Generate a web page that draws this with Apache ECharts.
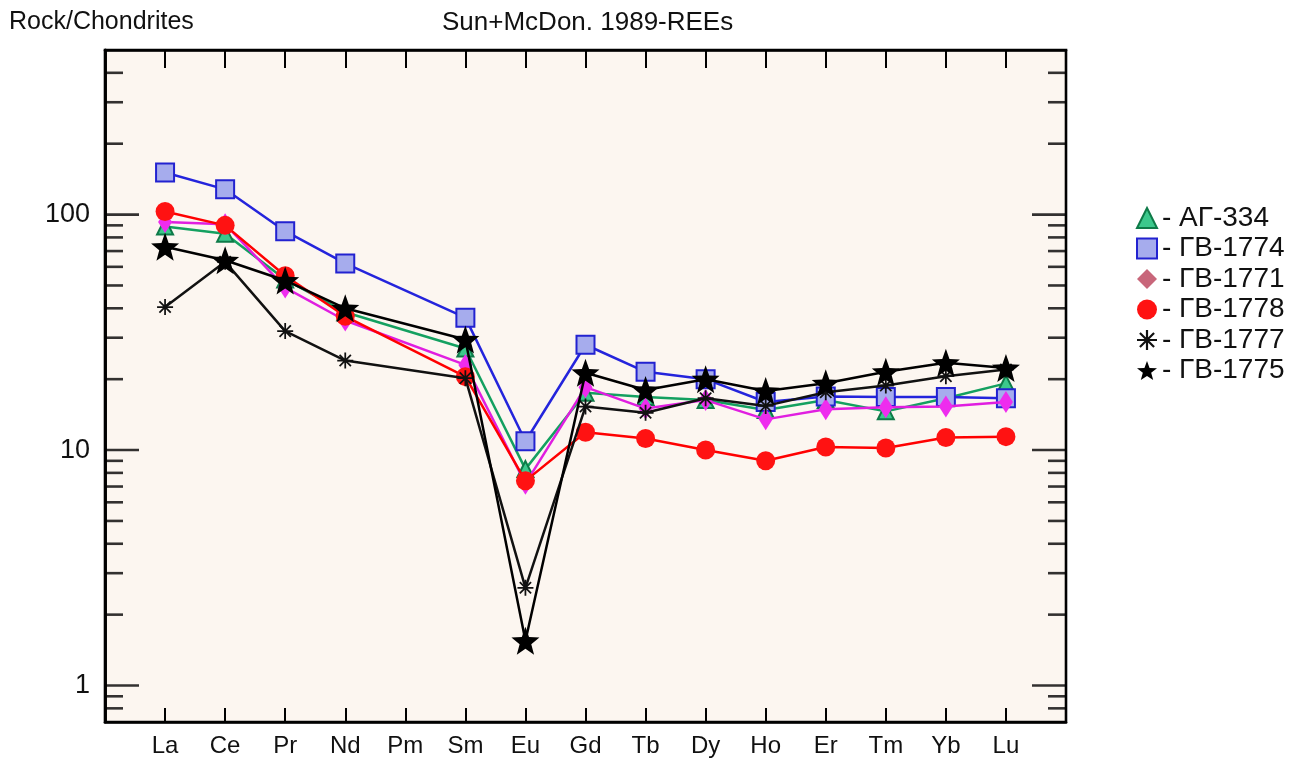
<!DOCTYPE html>
<html>
<head>
<meta charset="utf-8">
<script src="https://cdn.jsdelivr.net/npm/echarts@6/dist/echarts.min.js"></script>
<style>
html,body{margin:0;padding:0;background:#ffffff;}
#chart{width:1310px;height:758px;}
</style>
</head>
<body>
<div id="chart"></div>
<script>
// ---- data ----
var categories = ['La','Ce','Pr','Nd','Pm','Sm','Eu','Gd','Tb','Dy','Ho','Er','Tm','Yb','Lu'];
var seriesNames = ['АГ-334','ГВ-1774','ГВ-1771','ГВ-1778','ГВ-1777','ГВ-1775'];
var AG334  = [89, 83, 53, 38.5, null, 27, 8.3, 17.5, 16.8, 16.3, 14.8, 16.3, 14.6, 16.6, 19.2];
var GV1774 = [151, 128, 85, 62, null, 36.5, 10.9, 28, 21.5, 20, 16, 16.9, 16.8, 16.8, 16.6];
var GV1771 = [93, 91, 49, 35.5, null, 23, 7.2, 18.5, 15, 16.3, 13.5, 14.9, 15.2, 15.3, 16];
var GV1778 = [103, 90, 55, 37, null, 20.5, 7.4, 11.9, 11.2, 10, 9, 10.3, 10.2, 11.3, 11.4];
var GV1777 = [40.5, 63, 32, 24, null, 20.2, 2.6, 15.3, 14.4, 16.6, 15.4, 17.6, 18.8, 20.6, 22];
var GV1775 = [73, 64, 52.5, 40, null, 29.5, 1.55, 21.3, 18, 20, 17.8, 19.2, 21.5, 23.5, 22.3];
var yLabels = [1, 10, 100];
var majorTickValues = [1, 10, 100];
var minorTickValues = [0.8, 0.9, 2, 3, 4, 5, 6, 7, 8, 9, 20, 30, 40, 50, 60, 70, 80, 90, 200, 300, 400];

// ---- styling ----
var FONT = '"Liberation Sans", Arial, sans-serif';
var STAR = 'path://M0,-10 L2.45,-3.37 L9.51,-3.09 L3.96,1.29 L5.88,8.09 L0,4.17 L-5.88,8.09 L-3.96,1.29 L-9.51,-3.09 L-2.45,-3.37 Z';
var AST = 'path://M-10,-1.1 L10,-1.1 L10,1.1 L-10,1.1 Z M-1.1,-10 L1.1,-10 L1.1,10 L-1.1,10 Z ' +
          'M-7.85,-6.29 L-6.29,-7.85 L7.85,6.29 L6.29,7.85 Z M-6.29,7.85 L-7.85,6.29 L6.29,-7.85 L7.85,-6.29 Z';

function toPoints(arr) {
  var out = [];
  arr.forEach(function (v, i) { if (v != null) out.push([i + 1, v]); });
  return out;
}

var styles = [
  {data: AG334,  line: '#14a060', fill: '#3cc88c', border: '#0e7a48', symbol: 'triangle', size: 16, legendColor: '#3cc88c', legendBorder: '#0e7a48'},
  {data: GV1774, line: '#2424dc', fill: '#a6aced', border: '#2222d0', symbol: 'rect', size: 18, legendColor: '#a6aced', legendBorder: '#2222d0'},
  {data: GV1771, line: '#e01ee0', fill: '#ee2cee', border: '#e01ee0', symbol: 'diamond', size: [14, 22], legendColor: '#c8667a', legendBorder: '#c8667a'},
  {data: GV1778, line: '#ff0000', fill: '#ff1212', border: '#ff0000', symbol: 'circle', size: 19, legendColor: '#ff1212', legendBorder: '#ff1212'},
  {data: GV1777, line: '#111111', fill: '#111111', border: '#111111', symbol: AST, size: 16, legendColor: '#111111', legendBorder: '#111111'},
  {data: GV1775, line: '#000000', fill: '#000000', border: '#000000', symbol: STAR, size: 28, legendColor: '#000000', legendBorder: '#000000'}
];

var series = styles.map(function (s, i) {
  return {
    name: seriesNames[i],
    type: 'line',
    data: toPoints(s.data),
    symbol: s.symbol,
    symbolSize: s.size,
    showAllSymbol: true,
    clip: false,
    z: 3 + i,
    lineStyle: {color: s.line, width: 2.5},
    itemStyle: {color: s.fill, borderColor: s.border, borderWidth: (s.symbol === 'rect' || s.symbol === 'triangle') ? 2 : 0},
    emphasis: {disabled: true},
    animation: false
  };
});

// frame ticks on left and right (placed through the axis scales)
function tickSeries(name, values, xVal, len, dir) {
  return {
    name: name, type: 'scatter', silent: true, clip: false, animation: false, z: 2,
    data: values.map(function (v) { return [xVal, v]; }),
    symbol: 'rect', symbolSize: [len, 2.6], symbolOffset: [dir * len / 2, 0],
    itemStyle: {color: '#000000'}
  };
}
series.push(tickSeries('minorLeft', minorTickValues, 0, 18, 1));
series.push(tickSeries('minorRight', minorTickValues, 16, 18, -1));
series.push(tickSeries('majorLeft', majorTickValues, 0, 34, 1));
series.push(tickSeries('majorRight', majorTickValues, 16, 34, -1));

function isDecade(v) {
  var l = Math.log10(v);
  return Math.abs(l - Math.round(l)) < 1e-6;
}

var yAxisCommon = {
  type: 'log', logBase: 10, min: 0.7, max: 500,
  splitLine: {show: false},
  axisLine: {show: true, lineStyle: {color: '#000', width: 2.6}},
  axisTick: {show: false},
  minorTick: {show: false}
};

var option = {
  backgroundColor: '#ffffff',
  animation: false,
  textStyle: {fontFamily: FONT},
  title: [
    {text: 'Rock/Chondrites', left: 4, top: 5, textStyle: {fontFamily: FONT, fontSize: 25, fontWeight: 'normal', color: '#111'}},
    {text: 'Sun+McDon. 1989-REEs', left: 437, top: 5, textStyle: {fontFamily: FONT, fontSize: 26, fontWeight: 'normal', color: '#111'}}
  ],
  grid: {left: 105, right: 244, top: 50, bottom: 36, show: true, backgroundColor: '#fcf6f0', borderColor: '#000', borderWidth: 2.6},
  legend: {
    orient: 'vertical', left: 1131, top: 199,
    itemWidth: 20, itemHeight: 20, itemGap: 2.5,
    textStyle: {fontFamily: FONT, fontSize: 28, color: '#111'},
    formatter: function (n) { return '- ' + n; },
    selectedMode: false,
    data: styles.map(function (s, i) {
      return {name: seriesNames[i], icon: s.symbol,
              itemStyle: {color: s.legendColor, borderColor: s.legendBorder, borderWidth: (s.symbol === 'rect' || s.symbol === 'triangle') ? 2 : 0}};
    })
  },
  xAxis: [
    {
      type: 'value', min: 0, max: 16, interval: 1, position: 'bottom',
      splitLine: {show: false},
      axisLine: {show: true, lineStyle: {color: '#000', width: 2.6}},
      axisTick: {show: true, inside: true, length: 14, lineStyle: {color: '#000', width: 2}},
      axisLabel: {margin: 12, fontSize: 24, fontFamily: FONT, color: '#111', showMinLabel: true, showMaxLabel: true,
        formatter: function (v) { return categories[v - 1] || ''; }}
    },
    {
      type: 'value', min: 0, max: 16, interval: 1, position: 'top',
      splitLine: {show: false},
      axisLine: {show: true, lineStyle: {color: '#000', width: 2.6}},
      axisTick: {show: true, inside: true, length: 18, lineStyle: {color: '#000', width: 2}},
      axisLabel: {show: false}
    }
  ],
  yAxis: [
    Object.assign({}, yAxisCommon, {
      position: 'left',
      axisLabel: {margin: 15, fontSize: 27, fontFamily: FONT, color: '#111',
        formatter: function (v) { return (isDecade(v) && yLabels.indexOf(Math.round(v)) >= 0) ? String(Math.round(v)) : ''; }}
    }),
    Object.assign({}, yAxisCommon, {position: 'right', axisLabel: {show: false}})
  ],
  series: series
};

var chart = echarts.init(document.getElementById('chart'), null, {renderer: 'canvas'});
chart.setOption(option);
</script>
</body>
</html>
